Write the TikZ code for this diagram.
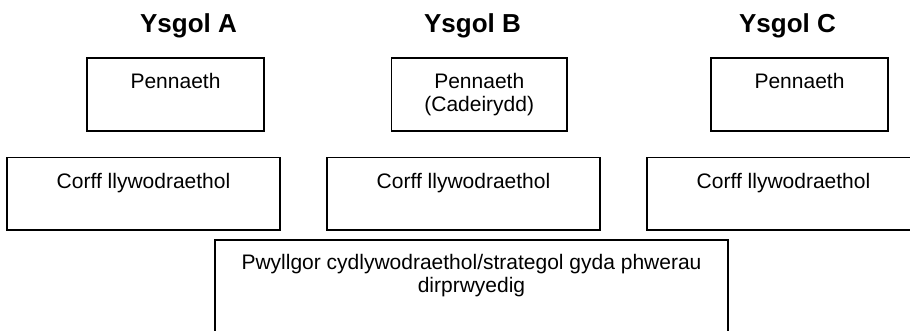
\documentclass[tikz,border=0pt]{standalone}
\usepackage{fontspec}
\setmainfont{Liberation Sans}
\begin{document}
\begin{tikzpicture}[x=1pt,y=-1pt,
  box/.style={draw=black, line width=1.8pt, inner sep=0pt},
  lbl/.style={font=\fontsize{21}{23.5}\selectfont, align=center, anchor=base, inner sep=0pt},
  ttl/.style={font=\fontsize{26}{30}\selectfont\bfseries, anchor=base, inner sep=0pt}]
\useasboundingbox (0,0) rectangle (910,330);
\clip (0,0) rectangle (910,330);
% titles
\node[ttl] (ta) at (188.5,32) {Ysgol A};
\node[ttl] (tb) at (472.5,32) {Ysgol B};
\node[ttl] (tc) at (787.5,32) {Ysgol C};
% head boxes
\node[box, minimum width=177pt, minimum height=73pt] (pa) at (175.5,94.5) {};
\node[box, minimum width=175.5pt, minimum height=73pt] (pb) at (479.25,94.5) {};
\node[box, minimum width=177pt, minimum height=73pt] (pc) at (799.5,94.5) {};
\node[lbl] (pat) at ([yshift=-31.3pt]pa.north) {Pennaeth};
\node[lbl] (pbt) at ([yshift=-54.8pt]pb.north) {Pennaeth\\(Cadeirydd)};
\node[lbl] (pct) at ([yshift=-31.3pt]pc.north) {Pennaeth};
% governing bodies
\node[box, minimum width=273pt, minimum height=72.5pt] (ca) at (143.5,193.75) {};
\node[box, minimum width=273pt, minimum height=72.5pt] (cb) at (463.5,193.75) {};
\node[box, minimum width=273pt, minimum height=72.5pt] (cc) at (783.5,193.75) {};
\node[lbl] (cat) at ([yshift=-31.8pt]ca.north) {Corff llywodraethol};
\node[lbl] (cbt) at ([yshift=-31.8pt]cb.north) {Corff llywodraethol};
\node[lbl] (cct) at ([yshift=-31.8pt]cc.north) {Corff llywodraethol};
% committee
\node[box, minimum width=513pt, minimum height=110pt] (pw) at (471.5,295) {};
\node[lbl] (pwt) at ([yshift=-53.5pt]pw.north) {Pwyllgor cydlywodraethol/strategol gyda phwerau\\dirprwyedig};
\end{tikzpicture}
\end{document}
